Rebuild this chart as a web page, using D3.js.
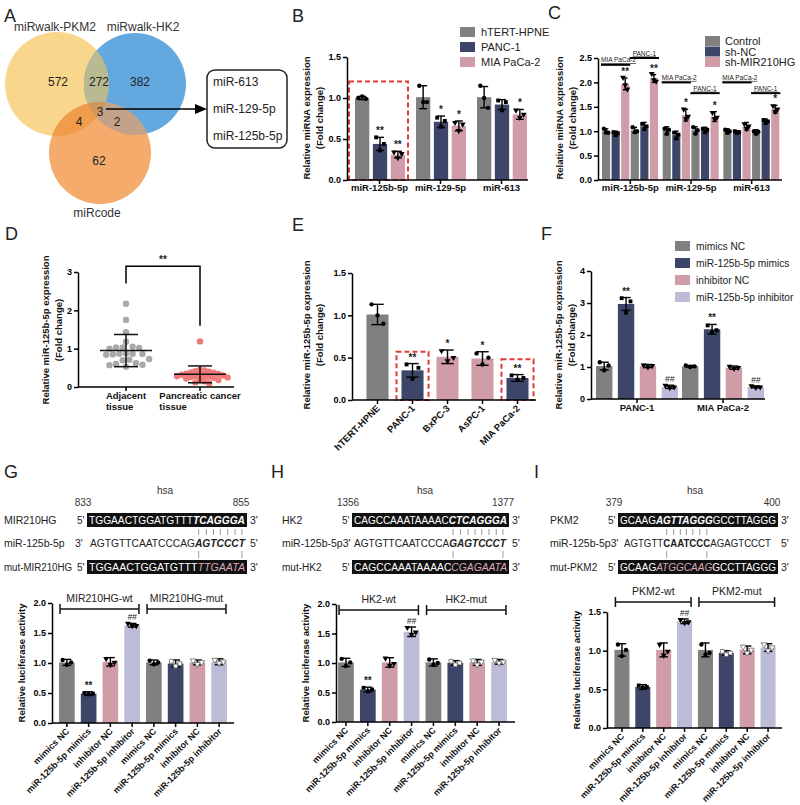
<!DOCTYPE html>
<html><head><meta charset="utf-8">
<script src="https://cdn.jsdelivr.net/npm/d3@7"></script>
<style>body{margin:0;background:#fff} svg{display:block;font-family:Arial,"Liberation Sans",Helvetica,sans-serif}</style>
</head><body><svg id="c" width="800" height="805"></svg>
<script>
// ---------------- DATA ----------------
// A: Venn
const vennSets = ["miRwalk-PKM2", "miRwalk-HK2", "miRcode"];
const vennRegionCounts = [572, 272, 382, 4, 3, 2, 62]; // A, AB, B, AC, ABC, BC, C
const vennMirs = ["miR-613", "miR-129-5p", "miR-125b-5p"];

// B
const bCats = ["miR-125b-5p", "miR-129-5p", "miR-613"];
const bSeries = ["hTERT-HPNE", "PANC-1", "MIA PaCa-2"];
const bMean = [[1.00, 0.44, 0.31], [1.01, 0.71, 0.66], [1.01, 0.92, 0.80]];
const bSD = [[0.02, 0.08, 0.04], [0.14, 0.07, 0.06], [0.13, 0.06, 0.06]];
const bPts = [[[1.00, 1.02, 0.99], [0.52, 0.36, 0.44], [0.34, 0.27, 0.32]],
              [[1.15, 0.95, 0.95], [0.76, 0.65, 0.72], [0.70, 0.60, 0.68]],
              [[1.15, 1.00, 0.88], [0.97, 0.85, 0.95], [0.85, 0.76, 0.80]]];
const bSig = [["", "**", "**"], ["", "*", "*"], ["", "", "*"]];
const bTicks = [0, 0.5, 1.0, 1.5];

// C
const cSeries = ["Control", "sh-NC", "sh-MIR210HG"];
const cCells = ["MIA PaCa-2", "PANC-1"];
const cMean = [[1.00, 0.95, 1.97, 1.02, 1.10, 2.08], [1.01, 0.92, 1.33, 1.02, 1.02, 1.30], [1.00, 0.98, 1.10, 0.98, 1.20, 1.45]];
const cSD = [[0.05, 0.05, 0.12, 0.06, 0.08, 0.08], [0.08, 0.08, 0.12, 0.07, 0.06, 0.10], [0.05, 0.03, 0.08, 0.05, 0.05, 0.08]];
const cPts = [[[1.05, 0.98, 0.97], [0.98, 0.92, 0.96], [2.10, 1.95, 1.86], [1.08, 0.98, 1.00], [1.15, 1.05, 1.10], [2.18, 2.05, 2.02]],
              [[1.05, 0.95, 1.03], [0.97, 0.85, 0.93], [1.45, 1.25, 1.30], [1.08, 0.95, 1.02], [1.05, 0.98, 1.03], [1.38, 1.25, 1.28]],
              [[1.03, 0.97, 1.00], [1.00, 0.97, 0.98], [1.15, 1.05, 1.10], [1.00, 0.95, 0.99], [1.23, 1.17, 1.20], [1.52, 1.40, 1.45]]];
const cSig = [["", "", "**", "", "", "**"], ["", "", "*", "", "", "*"], ["", "", "", "", "", "*"]];
const cAnnotLevels = [[2.36, 2.50], [2.00, 1.78], [2.00, 1.78]];
const cTicks = [0, 0.5, 1.0, 1.5, 2.0, 2.5];

// D
const dCats = ["Adjacent tissue", "Pancreatic cancer tissue"];
const dAdj = [2.17, 1.75, 1.43, 1.18, 1.05, 1.03, 1.03, 1.02, 1.00, 0.88, 0.87, 0.87, 0.86, 0.85, 0.84, 0.73, 0.71, 0.70, 0.62, 0.60, 0.58, 0.57, 0.53];
const dPdac = [1.19, 0.45, 0.43, 0.41, 0.40, 0.38, 0.37, 0.35, 0.34, 0.33, 0.32, 0.30, 0.30, 0.29, 0.28, 0.27, 0.26, 0.25, 0.24, 0.22, 0.20, 0.18, 0.15, 0.12, 0.10];
const dMean = [0.95, 0.33];
const dSD = [0.42, 0.22];
const dTicks = [0, 1, 2, 3];

// E
const eCats = ["hTERT-HPNE", "PANC-1", "BxPC-3", "AsPC-1", "MIA PaCa-2"];
const eMean = [1.01, 0.35, 0.51, 0.49, 0.26];
const eSD = [0.12, 0.08, 0.08, 0.08, 0.04];
const ePts = [[1.13, 1.00, 0.90], [0.42, 0.25, 0.38], [0.58, 0.46, 0.50], [0.55, 0.42, 0.50], [0.29, 0.24, 0.26]];
const eSig = ["", "**", "*", "*", "**"];
const eBoxed = ["PANC-1", "MIA PaCa-2"];
const eBoxTop = [0.57, 0.48];
const eTicks = [0, 0.5, 1.0, 1.5];

// F
const fCats = ["PANC-1", "MIA PaCa-2"];
const fSeries = ["mimics NC", "miR-125b-5p mimics", "inhibitor NC", "miR-125b-5p inhibitor"];
const fMean = [[1.03, 2.97, 1.03, 0.38], [1.02, 2.18, 0.98, 0.38]];
const fSD = [[0.12, 0.20, 0.05, 0.05], [0.03, 0.15, 0.05, 0.03]];
const fPts = [[[1.15, 0.90, 1.05], [3.15, 2.70, 3.05], [1.06, 1.00, 1.04], [0.42, 0.35, 0.37]],
              [[1.05, 1.00, 1.02], [2.30, 2.08, 2.15], [1.02, 0.95, 0.98], [0.41, 0.36, 0.37]]];
const fSig = [["", "**", "", "##"], ["", "**", "", "##"]];
const fTicks = [0, 1, 2, 3, 4];

// G, H, I
const lucCats = ["mimics NC", "miR-125b-5p mimics", "inhibitor NC", "miR-125b-5p inhibitor",
                 "mimics NC", "miR-125b-5p mimics", "inhibitor NC", "miR-125b-5p inhibitor"];
const gMean = [1.01, 0.49, 1.02, 1.63, 1.01, 0.99, 1.01, 1.02];
const gSD = [0.05, 0.03, 0.07, 0.03, 0.04, 0.06, 0.04, 0.05];
const gPts = [[1.05, 0.97, 1.01], [0.50, 0.48, 0.49], [1.07, 0.97, 1.01], [1.66, 1.62, 1.62], [1.04, 0.98, 1.01], [1.03, 0.95, 0.99], [1.04, 0.98, 1.01], [1.05, 1.00, 1.02]];
const gSig = ["", "**", "", "##", "", "", "", ""];
const hMean = [1.01, 0.55, 1.01, 1.53, 1.01, 1.00, 1.01, 1.02];
const hSD = [0.07, 0.04, 0.08, 0.08, 0.06, 0.04, 0.05, 0.04];
const hPts = [[1.07, 0.95, 1.01], [0.58, 0.52, 0.55], [1.08, 0.96, 0.99], [1.60, 1.48, 1.52], [1.06, 0.97, 1.00], [1.03, 0.97, 1.00], [1.04, 0.97, 1.02], [1.05, 1.00, 1.02]];
const hSig = ["", "**", "", "##", "", "", "", ""];
const iMean = [1.01, 0.53, 1.01, 1.38, 1.01, 0.97, 1.01, 1.04];
const iSD = [0.08, 0.03, 0.09, 0.03, 0.09, 0.03, 0.05, 0.05];
const iPts = [[1.08, 0.93, 1.01], [0.55, 0.52, 0.53], [1.08, 0.94, 0.99], [1.40, 1.36, 1.37], [1.08, 0.95, 0.97], [0.99, 0.95, 0.97], [1.05, 0.97, 1.01], [1.08, 1.00, 1.04]];
const iSig = ["", "", "", "##", "", "", "", ""];
const gTicks = [0, 0.5, 1.0, 1.5, 2.0];
const iTicks = [0, 0.5, 1.0, 1.5];

const gSeq = {name: "MIR210HG", mir: "miR-125b-5p", mut: "mut-MIR210HG", start: "833", end: "855",
  top: [["TGGAACTGGATGTTT", "n"], ["TCAGGGA", "bi"]],
  mid: [["AGTGTTCAATCCCAG", "n"], ["AGTCCCT", "bi"]],
  bot: [["TGGAACTGGATGTTT", "n"], ["TTGAATA", "ip"]],
  pair: [15, 21], ends: [15, 21], brackets: ["MIR210HG-wt", "MIR210HG-mut"]};
const hSeq = {name: "HK2", mir: "miR-125b-5p3'", mut: "mut-HK2", start: "1356", end: "1377",
  top: [["CAGCCAAATAAAAC", "n"], ["CTCAGGGA", "bi"]],
  mid: [["AGTGTTCAATCCCA", "n"], ["GAGTCCCT", "bi"]],
  bot: [["CAGCCAAATAAAAC", "n"], ["CGAGAATA", "ip"]],
  pair: [14, 21], ends: [14, 21], brackets: ["HK2-wt", "HK2-mut"]};
const iSeq = {name: "PKM2", mir: "miR-125b-5p3'", mut: "mut-PKM2", start: "379", end: "400",
  top: [["GCAAG", "n"], ["AGTTAGGG", "bi"], ["GCCTTAGGG", "n"]],
  mid: [["AGTGTT", "n"], ["CAATCCC", "b"], ["AGAGTCCCT", "n"]],
  bot: [["GCAAG", "n"], ["ATGGCAAG", "ip"], ["GCCTTAGGG", "n"]],
  pair: [6, 12], ends: [6, 12], brackets: ["PKM2-wt", "PKM2-mut"]};

// ---------------- DRAWING ----------------
const svg = d3.select("#c");
const GREY = "#808080", NAVY = "#3d4569", PINK = "#d09ca7", LAV = "#bcbbd8", RED = "#e03a37";
const bCol = [GREY, NAVY, PINK];
const lucCol = [GREY, NAVY, PINK, LAV];
const syms = [d3.symbolCircle, d3.symbolSquare, d3.symbolTriangle, d3.symbolTriangle];

function T(x, y, s, o = {}) {
  const t = svg.append("text").attr("x", x).attr("y", y).text(s)
    .attr("font-size", o.size || 10).attr("fill", o.fill || "#111")
    .attr("text-anchor", o.anchor || "start");
  if (o.bold) t.attr("font-weight", "bold");
  if (o.italic) t.attr("font-style", "italic");
  if (o.rot) t.attr("transform", `rotate(${o.rot},${x},${y})`);
  return t;
}
function yAxis(y, x, ticks, fmt) {
  const g = svg.append("g").attr("transform", `translate(${x},0)`)
    .call(d3.axisLeft(y).tickValues(ticks).tickFormat(d3.format(fmt)).tickSize(4).tickSizeOuter(0));
  g.attr("font-family", null);
  g.select(".domain").attr("stroke", "#000").attr("stroke-width", 1.5);
  g.selectAll(".tick line").attr("stroke", "#000").attr("stroke-width", 1.5);
  g.selectAll(".tick text").attr("font-size", 9).attr("font-weight", "bold").attr("fill", "#000").attr("x", -6);
}
function xAxisLine(x0, x1, y0, tickXs) {
  svg.append("line").attr("x1", x0).attr("x2", x1).attr("y1", y0).attr("y2", y0).attr("stroke", "#000").attr("stroke-width", 1.5);
  tickXs.forEach(x => svg.append("line").attr("x1", x).attr("x2", x).attr("y1", y0).attr("y2", y0 + 4).attr("stroke", "#000").attr("stroke-width", 1.5));
}
function yTitle(x, yc, lines, size) {
  lines.forEach((l, i) => T(x + i * 12.5, yc, l, {size: size || 9.5, bold: true, anchor: "middle", rot: -90, fill: "#111"}));
}
function bar(cx, w, y, m, sd, color, pts, sym, open, sig) {
  svg.append("rect").attr("x", cx - w / 2).attr("y", y(m)).attr("width", w).attr("height", y(0) - y(m)).attr("fill", color);
  const cap = w * 0.28;
  const g = svg.append("g").attr("stroke", "#000").attr("stroke-width", 1.4);
  g.append("line").attr("x1", cx).attr("x2", cx).attr("y1", y(m - sd)).attr("y2", y(m + sd));
  g.append("line").attr("x1", cx - cap).attr("x2", cx + cap).attr("y1", y(m + sd)).attr("y2", y(m + sd));
  g.append("line").attr("x1", cx - cap).attr("x2", cx + cap).attr("y1", y(m - sd)).attr("y2", y(m - sd));
  const px = d3.scalePoint().domain(d3.range(pts.length)).range([cx - w * 0.27, cx + w * 0.27]);
  pts.forEach((v, i) => {
    svg.append("path").attr("d", d3.symbol(sym, 15)())
      .attr("transform", `translate(${px(i)},${y(v)})${sym === syms[3] ? " rotate(180)" : ""}`)
      .attr("fill", open ? "#fff" : "#000").attr("stroke", open ? "#666" : "none").attr("stroke-width", 0.8);
  });
  if (sig) T(cx, y(m + sd) - 3, sig, {size: sig[0] === "#" ? 8.5 : 10, bold: sig[0] !== "#", italic: sig[0] === "#", anchor: "middle", fill: "#222"});
}
function legend(x, y0, dy, names, cols, tx, size) {
  names.forEach((n, i) => {
    svg.append("rect").attr("x", x).attr("y", y0 + i * dy - 5).attr("width", 15).attr("height", 10).attr("fill", cols[i]);
    T(tx, y0 + i * dy + 4, n, {size: size || 11, fill: "#222"});
  });
}

// Panel letters
[["A", 4, 22], ["B", 292, 22], ["C", 548, 19], ["D", 5, 240], ["E", 292, 231], ["F", 541, 240], ["G", 4, 478], ["H", 271, 478], ["I", 534, 478]]
  .forEach(([l, x, y]) => T(x, y, l, {size: 18, fill: "#222"}));

// ---------- A: Venn ----------
(function () {
  const cs = [[57, 84, 52], [135, 84, 51], [100, 153, 51]];
  const cols = ["#f8d68c", "#63a9e0", "#f4ab6c"];
  const defs = svg.append("defs");
  cs.forEach((c, i) => defs.append("clipPath").attr("id", "vc" + i).append("circle").attr("cx", c[0]).attr("cy", c[1]).attr("r", c[2]));
  const circ = (g, i, col) => g.append("circle").attr("cx", cs[i][0]).attr("cy", cs[i][1]).attr("r", cs[i][2]).attr("fill", col);
  cs.forEach((c, i) => circ(svg, i, cols[i]));
  circ(svg.append("g").attr("clip-path", "url(#vc0)"), 1, "#b9b992");
  circ(svg.append("g").attr("clip-path", "url(#vc0)"), 2, "#f09c4a");
  circ(svg.append("g").attr("clip-path", "url(#vc1)"), 2, "#c2a38a");
  circ(svg.append("g").attr("clip-path", "url(#vc0)").append("g").attr("clip-path", "url(#vc1)"), 2, "#d0975a");
  T(55, 31, vennSets[0], {size: 12, anchor: "middle", fill: "#333"});
  T(143, 31, vennSets[1], {size: 12, anchor: "middle", fill: "#333"});
  T(97, 217, vennSets[2], {size: 12, anchor: "middle", fill: "#333"});
  const pos = [[58, 86], [99, 86], [140, 86], [79, 126], [100, 116], [117, 126], [99, 165]];
  vennRegionCounts.forEach((n, i) => T(pos[i][0], pos[i][1], n, {size: 12, anchor: "middle", fill: "#222"}));
  svg.append("line").attr("x1", 106).attr("x2", 198).attr("y1", 109).attr("y2", 109).attr("stroke", "#000").attr("stroke-width", 1.5);
  svg.append("path").attr("d", "M207,109 L195,104 L195,114 Z").attr("fill", "#000");
  svg.append("rect").attr("x", 207).attr("y", 70).attr("width", 80).attr("height", 78).attr("rx", 8).attr("fill", "none").attr("stroke", "#222").attr("stroke-width", 1.5);
  vennMirs.forEach((m, i) => T(213, 86 + i * 27, m, {size: 12, fill: "#222"}));
})();

// ---------- B ----------
(function () {
  const y = d3.scaleLinear([0, 1.5], [180, 57]);
  const x = d3.scaleBand(bCats, [347, 530]);
  const xi = d3.scaleBand(d3.range(3), [8, 58]).paddingInner(0.2);
  svg.append("rect").attr("x", x(bCats[0]) + 2).attr("y", y(1.2)).attr("width", x.bandwidth() - 2).attr("height", y(0) - y(1.2))
    .attr("fill", "none").attr("stroke", RED).attr("stroke-width", 2).attr("stroke-dasharray", "5,3");
  bCats.forEach((c, ci) => {
    bSeries.forEach((s, si) => {
      const cx = x(c) + xi(si) + xi.bandwidth() / 2;
      bar(cx, xi.bandwidth(), y, bMean[ci][si], bSD[ci][si], bCol[si], bPts[ci][si], syms[si], false, bSig[ci][si]);
    });
  });
  yAxis(y, 347, bTicks, ".1f");
  xAxisLine(347, 528, y(0), bCats.map(c => x(c) + x.bandwidth() / 2 + 2));
  bCats.forEach(c => T(x(c) + x.bandwidth() / 2 + 2, 191, c, {size: 9.5, bold: true, anchor: "middle"}));
  yTitle(310, 118, ["Relative miRNA expression", "(Fold change)"]);
  legend(460, 32, 15, bSeries, bCol, 481);
})();

// ---------- C ----------
(function () {
  const y = d3.scaleLinear([0, 2.5], [180, 58]);
  const x = d3.scaleBand(bCats, [598, 780]);
  const xi = d3.scaleBand(d3.range(6), [4, 60]).paddingInner(0.15);
  const cols = [GREY, NAVY, PINK, GREY, NAVY, PINK];
  bCats.forEach((c, ci) => {
    d3.range(6).forEach(k => {
      const cx = x(c) + xi(k) + xi.bandwidth() / 2;
      bar(cx, xi.bandwidth(), y, cMean[ci][k], cSD[ci][k], cols[k], cPts[ci][k], syms[k % 3], false, cSig[ci][k]);
    });
    cCells.forEach((cell, h) => {
      const xa = x(c) + xi(h * 3) - 1, xb = x(c) + xi(h * 3 + 2) + xi.bandwidth() + 1;
      const ly = y(cAnnotLevels[ci][h]);
      svg.append("line").attr("x1", xa).attr("x2", xb).attr("y1", ly).attr("y2", ly).attr("stroke", "#000").attr("stroke-width", 2);
      const t = T(h === 0 ? xa : (xa + xb) / 2, ly - 2.5, cell, {size: 6.5, anchor: h === 0 ? "start" : "middle", fill: "#222"});
      t.attr("text-decoration", "underline");
    });
  });
  yAxis(y, 598, cTicks, ".1f");
  xAxisLine(598, 782, y(0), bCats.map(c => x(c) + x.bandwidth() / 2 + 2));
  bCats.forEach(c => T(x(c) + x.bandwidth() / 2 + 2, 191, c, {size: 9.5, bold: true, anchor: "middle"}));
  yTitle(563, 118, ["Relative miRNA expression", "(Fold change)"]);
  legend(705, 41, 10.5, cSeries, [GREY, NAVY, PINK], 725);
})();

// ---------- D ----------
(function () {
  const y = d3.scaleLinear([0, 3], [387, 272]);
  const x = d3.scalePoint(dCats, [126, 200]);
  function swarm(vals, cx, d) {
    const placed = [], out = [];
    const order = vals.map((v, i) => i).sort((a, b) => vals[b] - vals[a]);
    order.forEach(i => {
      const py = y(vals[i]); let px = cx;
      for (let s = 0; s < 60; s++) {
        const off = s === 0 ? 0 : (s % 2 ? 1 : -1) * Math.ceil(s / 2) * d * 0.5;
        px = cx + off;
        if (placed.every(p => Math.hypot(p[0] - px, p[1] - py) >= d)) break;
      }
      placed.push([px, py]); out[i] = [px, py];
    });
    return out;
  }
  [[dAdj, "#a9a9a9", 6.6], [dPdac, "#f07a7a", 4.6]].forEach(([vals, col, dd], k) => {
    const cx = x(dCats[k]);
    swarm(vals, cx, dd).forEach(p => svg.append("circle").attr("cx", p[0]).attr("cy", p[1]).attr("r", 3.2).attr("fill", col));
    const g = svg.append("g").attr("stroke", "#111").attr("stroke-width", 1.5);
    const m = dMean[k], s = dSD[k];
    g.append("line").attr("x1", cx - 26).attr("x2", cx + 26).attr("y1", y(m)).attr("y2", y(m));
    g.append("line").attr("x1", cx).attr("x2", cx).attr("y1", y(m - s)).attr("y2", y(m + s));
    [m - s, m + s].forEach(v => g.append("line").attr("x1", cx - 12).attr("x2", cx + 12).attr("y1", y(v)).attr("y2", y(v)));
  });
  yAxis(y, 78, dTicks, "d");
  xAxisLine(78, 234, y(0), dCats.map(c => x(c)));
  dCats.forEach(c => {
    const parts = c.split(" "), last = parts.pop();
    const t = T(x(c), 399, parts.join(" "), {size: 9.5, bold: true, anchor: "middle"});
    const bb = t.node().getBBox();
    T(bb.x, 410, last, {size: 9.5, bold: true});
  });
  svg.append("path").attr("d", `M${x(dCats[0])},${y(2.7)} V${y(3.15)} H${x(dCats[1])} V${y(1.6)}`).attr("fill", "none").attr("stroke", "#000").attr("stroke-width", 1.5);
  T((x(dCats[0]) + x(dCats[1])) / 2, y(3.15) - 3, "**", {size: 10, bold: true, anchor: "middle", fill: "#222"});
  yTitle(49, 330, ["Relative miR-125b-5p expression", "(Fold change)"]);
})();

// ---------- E ----------
(function () {
  const y = d3.scaleLinear([0, 1.5], [400, 273]);
  const x = d3.scaleBand(eCats, [360, 535]).paddingInner(0.37).paddingOuter(0.185);
  const cols = [GREY, NAVY, PINK, PINK, NAVY];
  eBoxed.forEach((c, i) => {
    svg.append("rect").attr("x", x(c) - 5).attr("y", y(eBoxTop[i])).attr("width", x.bandwidth() + 10).attr("height", y(0) - y(eBoxTop[i]))
      .attr("fill", "none").attr("stroke", RED).attr("stroke-width", 2).attr("stroke-dasharray", "5,3");
  });
  eCats.forEach((c, i) => bar(x(c) + x.bandwidth() / 2, x.bandwidth(), y, eMean[i], eSD[i], cols[i], ePts[i], syms[i % 3], false, eSig[i]));
  yAxis(y, 352, eTicks, ".1f");
  xAxisLine(352, 536, y(0), eCats.map(c => x(c) + x.bandwidth() / 2));
  eCats.forEach(c => { const cx = x(c) + x.bandwidth() / 2 + 3; T(cx, 409, c, {size: 9.5, bold: true, anchor: "end", rot: -45}); });
  yTitle(310, 335, ["Relative miR-125b-5p expression", "(Fold change)"]);
})();

// ---------- F ----------
(function () {
  const y = d3.scaleLinear([0, 4], [399, 271]);
  const x = d3.scaleBand(fCats, [594, 766]);
  const xi = d3.scaleBand(d3.range(4), [2, 84]).paddingInner(0.25);
  fCats.forEach((c, ci) => d3.range(4).forEach(k => {
    bar(x(c) + xi(k) + xi.bandwidth() / 2, xi.bandwidth(), y, fMean[ci][k], fSD[ci][k], lucCol[k], fPts[ci][k], syms[k], false, fSig[ci][k]);
  }));
  yAxis(y, 591, fTicks, "d");
  xAxisLine(591, 765, y(0), fCats.map(c => x(c) + x.bandwidth() / 2));
  fCats.forEach(c => T(x(c) + x.bandwidth() / 2, 411, c, {size: 9.5, bold: true, anchor: "middle"}));
  yTitle(562, 335, ["Relative miR-125b-5p expression", "(Fold change)"]);
  legend(675, 246, 17, fSeries, lucCol, 696, 10.2);
})();

// ---------- G, H, I ----------
function seqPanel(cfg) {
  const rows = [520, 543, 567];
  T(cfg.hsaX, 494, "hsa", {size: 10, anchor: "middle", fill: "#333"});
  T(cfg.boxX0 - 4, 506, cfg.seq.start, {size: 10, anchor: "middle", fill: "#333"});
  T(cfg.boxX1 - 6, 506, cfg.seq.end, {size: 10, anchor: "middle", fill: "#333"});
  const fiveX = cfg.boxX0 - 10;
  [cfg.seq.name, cfg.seq.mir, cfg.seq.mut].forEach((l, i) => {
    const t = T(cfg.lx, rows[i] + 4, l, {size: i === 2 ? 10 : 10.5, fill: "#222"});
    const room = fiveX - cfg.lx - 5;
    if (i === 2 && t.node().getComputedTextLength() > room) t.attr("textLength", room).attr("lengthAdjust", "spacingAndGlyphs");
  });
  const mkRow = (segs, x, yb, len, inBox) => {
    const t = svg.append("text").attr("x", x).attr("y", yb).attr("font-size", 10.5)
      .attr("textLength", len).attr("lengthAdjust", "spacingAndGlyphs");
    segs.forEach(([s, st]) => {
      const ts = t.append("tspan").text(s).attr("fill", inBox ? "#fff" : "#222");
      if (st === "bi" || st === "b") ts.attr("font-weight", "bold");
      if (st === "bi" || st === "ip") ts.attr("font-style", "italic");
      if (st === "ip") ts.attr("fill", "#dcaab4");
    });
    return t;
  };
  [0, 2].forEach(r => {
    svg.append("rect").attr("x", cfg.boxX0).attr("y", rows[r] - 7).attr("width", cfg.boxX1 - cfg.boxX0).attr("height", 14).attr("fill", "#111");
    mkRow(r === 0 ? cfg.seq.top : cfg.seq.bot, cfg.boxX0 + 2, rows[r] + 4, cfg.boxX1 - cfg.boxX0 - 4, true);
    T(fiveX, rows[r] + 4, "5'", {size: 10, fill: "#222"});
    T(cfg.boxX1 + 3, rows[r] + 4, "3'", {size: 10.5, fill: "#222"});
  });
  T(cfg.boxX0 - 12, rows[1] + 4, cfg.seq.mir.endsWith("3'") ? "" : "3'", {size: 10.5, fill: "#222"});
  const mid = mkRow(cfg.seq.mid, cfg.midX0, rows[1] + 4, cfg.midX1 - cfg.midX0, false);
  T(cfg.boxX1 + 3, rows[1] + 4, "5'", {size: 10.5, fill: "#222"});
  const node = mid.node();
  const cxOf = i => { const e = node.getExtentOfChar(i); return e.x + e.width / 2; };
  d3.range(cfg.seq.pair[0], cfg.seq.pair[1] + 1).forEach(i => {
    const xx = cxOf(i);
    svg.append("line").attr("x1", xx).attr("x2", xx).attr("y1", rows[0] + 9).attr("y2", rows[1] - 8).attr("stroke", "#999").attr("stroke-width", 1);
  });
  cfg.seq.ends.forEach(i => {
    const xx = cxOf(i);
    svg.append("line").attr("x1", xx).attr("x2", xx).attr("y1", rows[1] + 8).attr("y2", rows[2] - 9).attr("stroke", "#999").attr("stroke-width", 1);
  });

  const y = d3.scaleLinear([0, cfg.ymax], cfg.yr);
  const x = d3.scaleBand(d3.range(8), cfg.xr).paddingInner(0.28).paddingOuter(0.14);
  d3.range(8).forEach(i => {
    bar(x(i) + x.bandwidth() / 2, x.bandwidth(), y, cfg.mean[i], cfg.sd[i], lucCol[i % 4], cfg.pts[i], syms[i % 4], i >= 5, cfg.sig[i]);
  });
  yAxis(y, cfg.ax, cfg.ticks, ".1f");
  xAxisLine(cfg.ax, cfg.axEnd, y(0), d3.range(8).map(i => x(i) + x.bandwidth() / 2));
  lucCats.forEach((c, i) => T(x(i) + x.bandwidth() / 2 + 3, y(0) + 9, c, {size: 9, bold: true, anchor: "end", rot: -45}));
  T(cfg.ax - 27, (y(0) + y(cfg.ymax)) / 2, "Relative luciferase activity", {size: 9.5, bold: true, anchor: "middle", rot: -90});
  [[0, 3], [4, 7]].forEach(([a, b], k) => {
    const xa = x(a) + 1, xb = x(b) + x.bandwidth() - 1, by = cfg.brY;
    const g = svg.append("g").attr("stroke", "#111").attr("stroke-width", 1.5);
    g.append("line").attr("x1", xa).attr("x2", xb).attr("y1", by).attr("y2", by);
    g.append("line").attr("x1", xa).attr("x2", xa).attr("y1", by - 5).attr("y2", by + 5);
    g.append("line").attr("x1", xb).attr("x2", xb).attr("y1", by - 5).attr("y2", by + 5);
    T((xa + xb) / 2, by - 7, cfg.seq.brackets[k], {size: 10.5, anchor: "middle", fill: "#222"});
  });
}
seqPanel({seq: gSeq, lx: 4, hsaX: 165, boxX0: 87, boxX1: 247, midX0: 90, midX1: 245,
  mean: gMean, sd: gSD, pts: gPts, sig: gSig, ymax: 2, yr: [723, 603], xr: [56, 230], ax: 52, axEnd: 234, ticks: gTicks, brY: 609});
seqPanel({seq: hSeq, lx: 282, hsaX: 425, boxX0: 352, boxX1: 509, midX0: 354, midX1: 506,
  mean: hMean, sd: hSD, pts: hPts, sig: hSig, ymax: 2, yr: [722, 604], xr: [335, 510], ax: 336, axEnd: 515, ticks: gTicks, brY: 610});
seqPanel({seq: iSeq, lx: 550, hsaX: 695, boxX0: 618, boxX1: 778, midX0: 624, midX1: 771,
  mean: iMean, sd: iSD, pts: iPts, sig: iSig, ymax: 1.5, yr: [728, 612], xr: [611.5, 778.5], ax: 607, axEnd: 782, ticks: iTicks, brY: 602});
</script></body></html>
